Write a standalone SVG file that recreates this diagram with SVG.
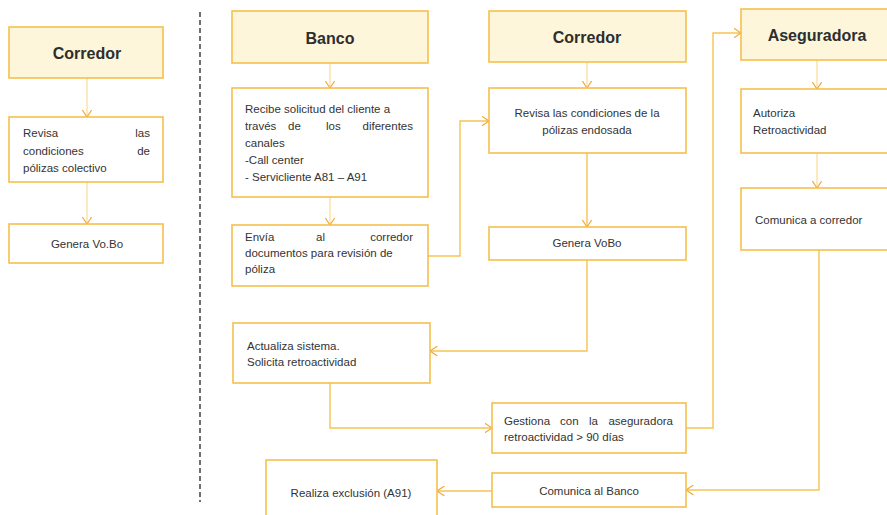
<svg xmlns="http://www.w3.org/2000/svg" width="887" height="515" viewBox="0 0 887 515">
<style>
.box{fill:#ffffff;stroke:#f5bf4c;stroke-width:1.6}
.hdr{fill:#fdf6da;stroke:#f5c04e;stroke-width:1.6}
.h{font-family:"Liberation Sans",Arial,sans-serif;font-weight:bold;font-size:16px;fill:#2e2e2e;text-anchor:middle}
.t{font-family:"Liberation Sans",Arial,sans-serif;font-size:11.5px;fill:#333333}
.c{text-anchor:middle}
.e{text-anchor:end}
.ln{fill:none;stroke:#f6c352;stroke-width:1.4}
.lt{fill:none;stroke:#f9dc95;stroke-width:1.2}
</style>
<defs>
<marker id="arr" viewBox="0 0 8 10" refX="7.5" refY="5" markerWidth="8" markerHeight="10" markerUnits="userSpaceOnUse" orient="auto">
<path d="M0,0 L7.5,5 L0,10" fill="none" stroke="#f2a83c" stroke-width="1.2"/>
</marker>
</defs>
<rect width="887" height="515" fill="#ffffff"/>
<line x1="200" y1="12" x2="200" y2="502" stroke="#333" stroke-width="1.4" stroke-dasharray="5,3"/>

<g id="connectors">
<path class="lt" d="M87,78 V117" marker-end="url(#arr)"/>
<path class="lt" d="M87,182 V224" marker-end="url(#arr)"/>
<path class="lt" d="M330,63 V88" marker-end="url(#arr)"/>
<path class="lt" d="M330,197 V225" marker-end="url(#arr)"/>
<path class="ln" d="M428,256 H460 V121 H489" marker-end="url(#arr)"/>
<path class="lt" d="M587,62 V88" marker-end="url(#arr)"/>
<path class="ln" d="M587,153 V227" marker-end="url(#arr)"/>
<path class="ln" d="M587,260 V351 H430" marker-end="url(#arr)"/>
<path class="ln" d="M330,383 V428 H492" marker-end="url(#arr)"/>
<path class="ln" d="M686,428 H713 V33 H741" marker-end="url(#arr)"/>
<path class="lt" d="M817,60 V89" marker-end="url(#arr)"/>
<path class="lt" d="M817,153 V188" marker-end="url(#arr)"/>
<path class="ln" d="M819,250 V490 H686" marker-end="url(#arr)"/>
<path class="ln" d="M492,491 H437" marker-end="url(#arr)"/>
</g>

<g id="corredor1-hdr"><rect class="hdr" x="9" y="27" width="154" height="51"/><text class="h" x="87" y="59">Corredor</text></g>
<g id="corredor1-revisa"><rect class="box" x="9" y="117" width="154" height="65"/>
<text class="t" x="23" y="137">Revisa</text><text class="t e" x="150" y="137">las</text>
<text class="t" x="23" y="155">condiciones</text><text class="t e" x="150" y="155">de</text>
<text class="t" x="23" y="172">pólizas colectivo</text></g>
<g id="corredor1-genera"><rect class="box" x="9" y="224" width="154" height="39"/><text class="t c" x="87" y="248">Genera Vo.Bo</text></g>

<g id="banco-hdr"><rect class="hdr" x="232" y="11" width="196" height="52"/><text class="h" x="330" y="44">Banco</text></g>
<g id="banco-recibe"><rect class="box" x="232" y="88" width="196" height="109"/>
<text class="t" x="245" y="113">Recibe solicitud del cliente a</text>
<text class="t" x="245" y="130">través</text><text class="t" x="288" y="130">de</text><text class="t" x="326" y="130">los</text><text class="t e" x="413" y="130">diferentes</text>
<text class="t" x="245" y="147">canales</text>
<text class="t" x="245" y="164">-Call center</text>
<text class="t" x="245" y="181">- Servicliente A81 – A91</text></g>
<g id="banco-envia"><rect class="box" x="232" y="225" width="196" height="61"/>
<text class="t" x="245" y="241">Envía</text><text class="t" x="316" y="241">al</text><text class="t e" x="413" y="241">corredor</text>
<text class="t" x="245" y="257">documentos para revisión de</text>
<text class="t" x="245" y="273">póliza</text></g>
<g id="banco-actualiza"><rect class="box" x="233" y="323" width="197" height="60"/>
<text class="t" x="247" y="350">Actualiza sistema.</text>
<text class="t" x="247" y="366">Solicita retroactividad</text></g>
<g id="banco-realiza"><rect class="box" x="266" y="460" width="171" height="62"/>
<text class="t c" x="351" y="497">Realiza exclusión (A91)</text></g>

<g id="corredor2-hdr"><rect class="hdr" x="489" y="11" width="197" height="51"/><text class="h" x="587" y="43">Corredor</text></g>
<g id="corredor2-revisa"><rect class="box" x="489" y="88" width="197" height="65"/>
<text class="t c" x="587" y="117">Revisa las  condiciones de la</text>
<text class="t c" x="587" y="134">pólizas endosada</text></g>
<g id="corredor2-genera"><rect class="box" x="489" y="227" width="197" height="33"/><text class="t c" x="587" y="247">Genera VoBo</text></g>
<g id="corredor2-gestiona"><rect class="box" x="492" y="403" width="194" height="50"/>
<text class="t" x="504" y="425">Gestiona</text><text class="t" x="560" y="425">con</text><text class="t" x="589" y="425">la</text><text class="t e" x="673" y="425">aseguradora</text>
<text class="t" x="504" y="441">retroactividad &gt; 90 días</text></g>
<g id="corredor2-comunica"><rect class="box" x="492" y="473" width="194" height="34"/><text class="t c" x="589" y="495">Comunica al Banco</text></g>

<g id="aseg-hdr"><rect class="hdr" x="741" y="9" width="155" height="51"/><text class="h" x="817" y="41">Aseguradora</text></g>
<g id="aseg-autoriza"><rect class="box" x="741" y="89" width="155" height="64"/>
<text class="t" x="753" y="117">Autoriza</text>
<text class="t" x="753" y="134">Retroactividad</text></g>
<g id="aseg-comunica"><rect class="box" x="741" y="188" width="155" height="62"/>
<text class="t" x="755" y="224">Comunica a corredor</text></g>
</svg>
